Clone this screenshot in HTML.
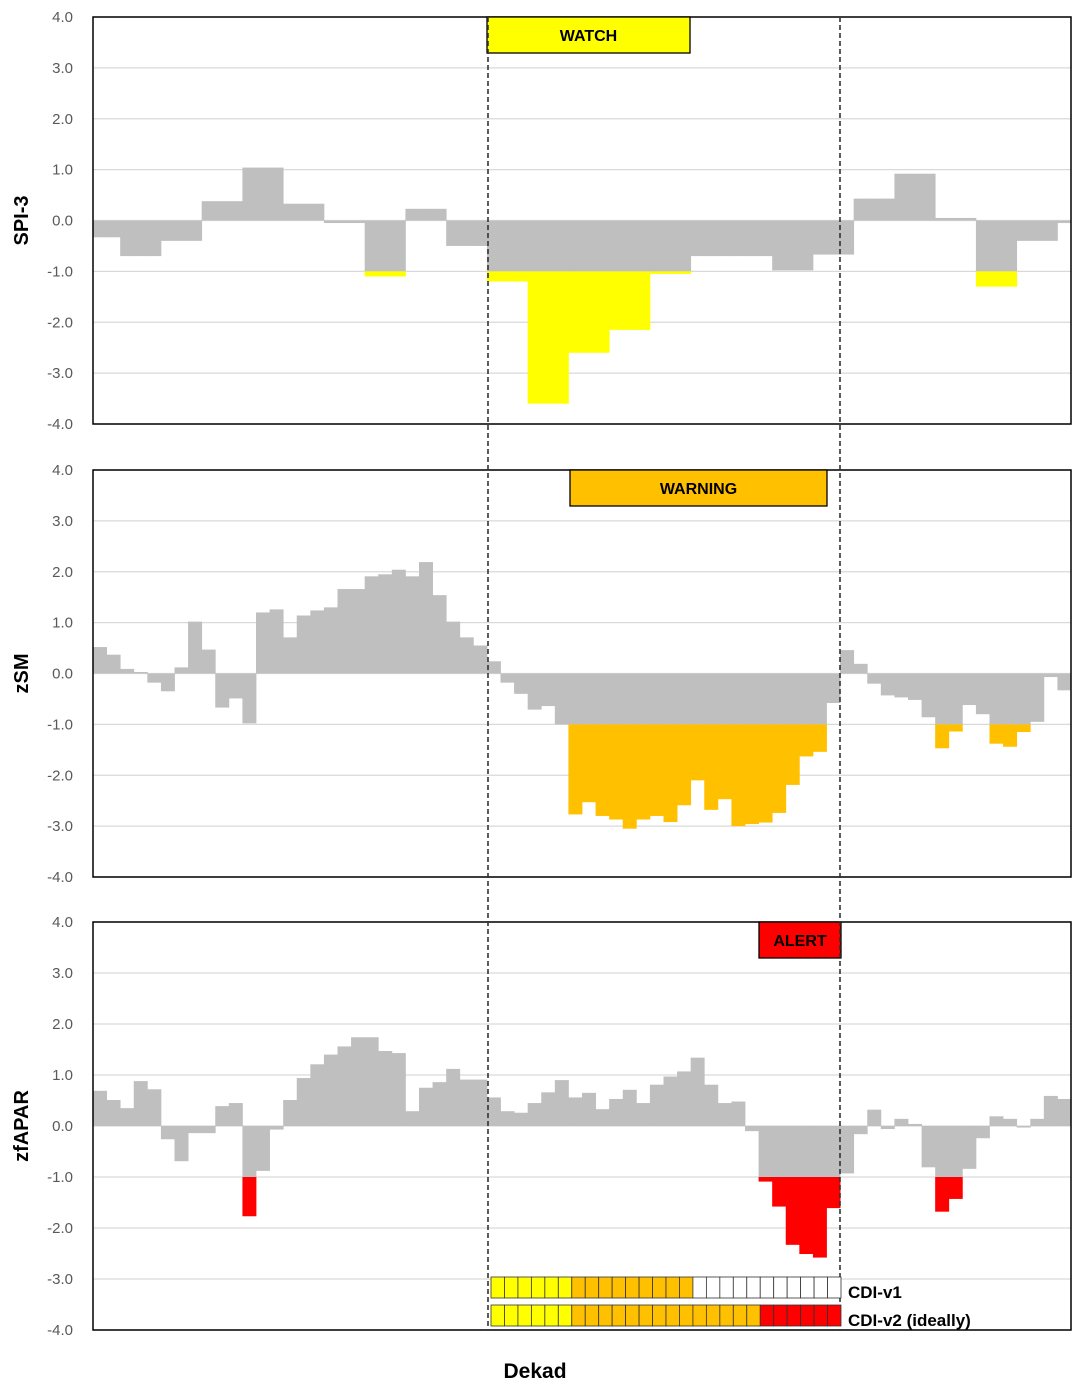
<!DOCTYPE html>
<html><head><meta charset="utf-8">
<style>
html,body{margin:0;padding:0;background:#fff;}
svg{display:block;font-family:"Liberation Sans",Arial,sans-serif;}
</style></head>
<body>
<svg id="chart" width="1083" height="1388" viewBox="0 0 1083 1388" xmlns="http://www.w3.org/2000/svg"></svg>
<script>
const ticks = ["4.0","3.0","2.0","1.0","0.0","-1.0","-2.0","-3.0","-4.0"];
const tickValues = [4,3,2,1,0,-1,-2,-3,-4];
const spi3 = [-0.33,-0.33,-0.7,-0.7,-0.7,-0.4,-0.4,-0.4,0.38,0.38,0.38,1.04,1.04,1.04,0.33,0.33,0.33,-0.05,-0.05,-0.05,-1.1,-1.1,-1.1,0.23,0.23,0.23,-0.5,-0.5,-0.5,-1.2,-1.2,-1.2,-3.6,-3.6,-3.6,-2.6,-2.6,-2.6,-2.15,-2.15,-2.15,-1.05,-1.05,-1.05,-0.7,-0.7,-0.7,-0.7,-0.7,-0.7,-0.98,-0.98,-0.98,-0.67,-0.67,-0.67,0.43,0.43,0.43,0.92,0.92,0.92,0.05,0.05,0.05,-1.3,-1.3,-1.3,-0.4,-0.4,-0.4,-0.05];
const zsm = [0.52,0.37,0.09,0.03,-0.18,-0.35,0.12,1.02,0.47,-0.67,-0.49,-0.98,1.2,1.26,0.71,1.14,1.24,1.3,1.66,1.66,1.91,1.95,2.04,1.91,2.19,1.54,1.02,0.71,0.55,0.24,-0.18,-0.4,-0.71,-0.64,-1.0,-2.77,-2.53,-2.8,-2.87,-3.05,-2.87,-2.8,-2.92,-2.59,-2.1,-2.68,-2.47,-3.0,-2.96,-2.93,-2.74,-2.19,-1.63,-1.54,-0.58,0.46,0.19,-0.2,-0.43,-0.47,-0.52,-0.86,-1.47,-1.14,-0.62,-0.8,-1.38,-1.44,-1.15,-0.95,-0.07,-0.33];
const zfapar = [0.69,0.51,0.35,0.88,0.72,-0.26,-0.69,-0.14,-0.14,0.39,0.45,-1.77,-0.88,-0.07,0.51,0.94,1.21,1.4,1.56,1.74,1.74,1.47,1.43,0.29,0.75,0.86,1.12,0.91,0.91,0.56,0.29,0.26,0.45,0.66,0.9,0.56,0.65,0.33,0.53,0.71,0.45,0.81,0.97,1.07,1.34,0.81,0.45,0.48,-0.1,-1.09,-1.58,-2.33,-2.51,-2.58,-1.61,-0.93,-0.16,0.32,-0.06,0.14,0.04,-0.81,-1.68,-1.43,-0.84,-0.24,0.19,0.14,-0.03,0.14,0.59,0.53];
const cdiV1 = ["y","y","y","y","y","y","o","o","o","o","o","o","o","o","o","w","w","w","w","w","w","w","w","w","w","w"];
const cdiV2 = ["y","y","y","y","y","y","o","o","o","o","o","o","o","o","o","o","o","o","o","o","r","r","r","r","r","r"];

const NS="http://www.w3.org/2000/svg";
const svg=document.getElementById('chart');
const X0=93, X1=1071, N=72, DW=(X1-X0)/N;
function xAt(i){return X0+i*DW;}
function mk(tag,attrs,parent){const e=document.createElementNS(NS,tag);for(const k in attrs)e.setAttribute(k,attrs[k]);(parent||svg).appendChild(e);return e;}

const panels=[
 {top:17,bot:424,data:spi3,color:"#FFFF00",title:"SPI-3",label:"WATCH",lx:487,lw:203,name:"spi3"},
 {top:470,bot:877,data:zsm,color:"#FFC000",title:"zSM",label:"WARNING",lx:570,lw:257,name:"zsm"},
 {top:922,bot:1330,data:zfapar,color:"#FF0000",title:"zfAPAR",label:"ALERT",lx:759,lw:82,name:"zfapar"}
];
panels.forEach(p=>{
  const g=mk('g',{});
  
  
  const yS=v=>p.top+(4-v)*(p.bot-p.top)/8;
  tickValues.forEach((v,k)=>{
    const gl=mk('line',{x1:X0,x2:X1,y1:yS(v),y2:yS(v),stroke:"#d9d9d9","stroke-width":1.3},g);
    
    
    const t=mk('text',{x:73,y:yS(v)+5,"text-anchor":"end","font-size":15,fill:"#595959"},g);
    t.textContent=ticks[k];
    
    
  });
  p.data.forEach((v,i)=>{
    const x=xAt(i);
    const gv=Math.max(v,-1);
    const r=mk('rect',{x:x,width:DW+0.4,y:Math.min(yS(0),yS(gv)),height:Math.abs(yS(gv)-yS(0)),fill:"#BFBFBF"},g);
    
    
    if(v<-1){
      const c=mk('rect',{x:x,width:DW+0.4,y:yS(-1),height:yS(v)-yS(-1),fill:p.color},g);
      
      
    }
  });
  const b=mk('rect',{x:X0,y:p.top,width:X1-X0,height:p.bot-p.top,fill:"none",stroke:"#000","stroke-width":1.5},g);
  
  
  const lb=mk('rect',{x:p.lx,y:p.top,width:p.lw,height:36,fill:p.color,stroke:"#000","stroke-width":1.3},g);
  
  
  const lt=mk('text',{x:p.lx+p.lw/2,y:p.top+24,"text-anchor":"middle","font-size":16,"font-weight":"bold",fill:"#000"},g);
  lt.textContent=p.label;
  
  
  const cy=(p.top+p.bot)/2;
  const at=mk('text',{x:28,y:cy,"text-anchor":"middle","font-size":20,"font-weight":"bold",fill:"#000",transform:`rotate(-90 28 ${cy})`},g);
  at.textContent=p.title;
  
  
});
[488,840].forEach(x=>{
  const l=mk('line',{x1:x,x2:x,y1:17,y2:1330,stroke:"#333","stroke-width":1.6,"stroke-dasharray":"5,3"});
  
  
});
const colMap={y:"#FFFF00",o:"#FFC000",r:"#FF0000",w:"#FFFFFF"};
const CX0=491, CX1=841, CW=(CX1-CX0)/cdiV1.length;
[[cdiV1,1277,"CDI-v1"],[cdiV2,1305,"CDI-v2 (ideally)"]].forEach(([arr,y,lab])=>{
  arr.forEach((c,i)=>{
    const r=mk('rect',{x:CX0+i*CW,y:y,width:CW,height:21,fill:colMap[c],stroke:"#333","stroke-width":0.8});
    
    
  });
  const t=mk('text',{x:848,y:y+21,"font-size":17,"font-weight":"bold",fill:"#000"});
  t.textContent=lab;
  
  
});
const xt=mk('text',{x:535,y:1378,"text-anchor":"middle","font-size":21,"font-weight":"bold",fill:"#000"});
xt.textContent="Dekad";


</script>
</body></html>
